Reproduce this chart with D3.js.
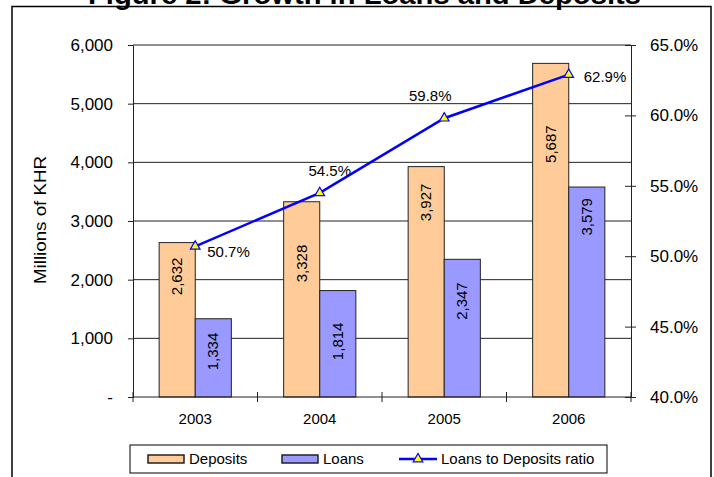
<!DOCTYPE html>
<html>
<head>
<meta charset="utf-8">
<script src="https://cdn.jsdelivr.net/npm/d3@7"></script>
<style>
  body { margin: 0; background: #fff; }
  svg { font-family: "Liberation Sans", Arial, sans-serif; }
</style>
</head>
<body>
<svg width="714" height="477"></svg>
<script>
var years = ["2003", "2004", "2005", "2006"];
var deposits = [2632, 3328, 3927, 5687];
var loans = [1334, 1814, 2347, 3579];
var ratio = [50.7, 54.5, 59.8, 62.9];
var leftTicks = [0, 1000, 2000, 3000, 4000, 5000, 6000];
var rightTicks = [40, 45, 50, 55, 60, 65];

// where each ratio label sits relative to its marker
var ratioLabelPos = [
  {dx: 12, dy: 11, anchor: "start"},
  {dx: 10, dy: -17, anchor: "middle"},
  {dx: -14, dy: -17, anchor: "middle"},
  {dx: 15, dy: 7, anchor: "start"}
];
// gap (px) between bar top and the start of its rotated value label
var depLabelGap = [15, 43, 17, 62];
var loanLabelGap = [14, 32, 23, 11];

var svg = d3.select("svg"),
    margin = {top: 45, left: 133, right: 83, bottom: 80},
    width = 714 - margin.left - margin.right,
    height = 477 - margin.top - margin.bottom;

// outer frame
svg.append("rect")
    .attr("x", 12).attr("y", 6.5)
    .attr("width", 699).attr("height", 490)
    .attr("fill", "none").attr("stroke", "#000").attr("stroke-width", 1.5);

svg.append("text")
    .attr("x", 364.5).attr("y", 4)
    .attr("text-anchor", "middle")
    .attr("textLength", 553).attr("lengthAdjust", "spacingAndGlyphs")
    .style("font-size", "27px").style("font-weight", "bold")
    .text("Figure 2: Growth in Loans and Deposits");

var g = svg.append("g").attr("transform", "translate(" + margin.left + "," + margin.top + ")");

var x = d3.scaleBand().domain(years).range([0, width]);
var y = d3.scaleLinear().domain([0, 6000]).range([height, 0]);
var y2 = d3.scaleLinear().domain([40, 65]).range([height, 0]);

// gridlines
g.append("g")
  .selectAll("line")
  .data(leftTicks.slice(1))
  .enter().append("line")
    .attr("x1", 0).attr("x2", width)
    .attr("y1", function(d) { return y(d); })
    .attr("y2", function(d) { return y(d); })
    .attr("stroke", "#222").attr("stroke-width", 1);

var barW = x.bandwidth() * 0.29;

var groups = g.selectAll(".grp")
  .data(years)
  .enter().append("g")
    .attr("transform", function(d) { return "translate(" + (x(d) + x.bandwidth() / 2) + ",0)"; });

groups.append("rect")
    .attr("x", -barW)
    .attr("y", function(d, i) { return y(deposits[i]); })
    .attr("width", barW)
    .attr("height", function(d, i) { return height - y(deposits[i]); })
    .attr("fill", "#FFCC99").attr("stroke", "#222").attr("stroke-width", 1);

groups.append("rect")
    .attr("x", 0)
    .attr("y", function(d, i) { return y(loans[i]); })
    .attr("width", barW)
    .attr("height", function(d, i) { return height - y(loans[i]); })
    .attr("fill", "#9999FF").attr("stroke", "#222").attr("stroke-width", 1);

var fmt = d3.format(",");

groups.append("text")
    .attr("transform", function(d, i) { return "translate(" + (-barW / 2 + 5) + "," + (y(deposits[i]) + depLabelGap[i]) + ") rotate(-90)"; })
    .attr("text-anchor", "end")
    .style("font-size", "15px")
    .text(function(d, i) { return fmt(deposits[i]); });

groups.append("text")
    .attr("transform", function(d, i) { return "translate(" + (barW / 2 + 5) + "," + (y(loans[i]) + loanLabelGap[i]) + ") rotate(-90)"; })
    .attr("text-anchor", "end")
    .style("font-size", "15px")
    .text(function(d, i) { return fmt(loans[i]); });

// axes
var yAxis = d3.axisLeft(y).tickValues(leftTicks).tickSize(5).tickPadding(15)
    .tickFormat(function(d) { return d === 0 ? "-" : fmt(d); });
var yAxis2 = d3.axisRight(y2).tickValues(rightTicks).tickSize(5).tickPadding(14)
    .tickFormat(function(d) { return d.toFixed(1) + "%"; });

var ga = g.append("g").call(yAxis);
var gb = g.append("g").attr("transform", "translate(" + width + ",0)").call(yAxis2);
[ga, gb].forEach(function(a) {
  a.select(".domain").attr("stroke", "#222");
  a.selectAll(".tick line").attr("stroke", "#222");
  a.selectAll("text").style("font-size", "17px").attr("fill", "#000")
      .style("font-family", "Liberation Sans, Arial, sans-serif");
});
// right ticks cross the axis
gb.selectAll(".tick line").attr("x1", -6);

// x axis with ticks at category boundaries
g.append("line")
    .attr("x1", 0).attr("x2", width)
    .attr("y1", height).attr("y2", height)
    .attr("stroke", "#222");
g.append("g")
  .selectAll("line")
  .data(years.concat(["end"]))
  .enter().append("line")
    .attr("x1", function(d, i) { return i * x.step(); })
    .attr("x2", function(d, i) { return i * x.step(); })
    .attr("y1", height - 5).attr("y2", height + 5)
    .attr("stroke", "#222");
g.append("g")
  .selectAll("text")
  .data(years)
  .enter().append("text")
    .attr("x", function(d) { return x(d) + x.bandwidth() / 2; })
    .attr("y", height + 27)
    .attr("text-anchor", "middle")
    .style("font-size", "15px")
    .text(function(d) { return d; });

// ratio line
var line = d3.line()
    .x(function(d, i) { return x(years[i]) + x.bandwidth() / 2; })
    .y(function(d) { return y2(d); });

g.append("path")
    .datum(ratio)
    .attr("d", line)
    .attr("fill", "none").attr("stroke", "#0000FF").attr("stroke-width", 2.5);

var tri = d3.symbol().type(d3.symbolTriangle).size(40);
g.selectAll(".mk")
  .data(ratio)
  .enter().append("path")
    .attr("d", tri)
    .attr("transform", function(d, i) { return "translate(" + (x(years[i]) + x.bandwidth() / 2) + "," + y2(d) + ")"; })
    .attr("fill", "#FFFF00").attr("stroke", "#0000FF").attr("stroke-width", 1.2);

g.selectAll(".rl")
  .data(ratio)
  .enter().append("text")
    .attr("x", function(d, i) { return x(years[i]) + x.bandwidth() / 2 + ratioLabelPos[i].dx; })
    .attr("y", function(d, i) { return y2(d) + ratioLabelPos[i].dy; })
    .attr("text-anchor", function(d, i) { return ratioLabelPos[i].anchor; })
    .style("font-size", "15px")
    .text(function(d) { return d.toFixed(1) + "%"; });

// y axis title
svg.append("text")
    .attr("transform", "translate(46,220) rotate(-90)")
    .attr("text-anchor", "middle")
    .attr("textLength", 128).attr("lengthAdjust", "spacingAndGlyphs")
    .style("font-size", "16px")
    .text("Millions of KHR");

// legend
var leg = svg.append("g");
leg.append("rect")
    .attr("x", 130).attr("y", 445).attr("width", 477).attr("height", 28)
    .attr("fill", "#fff").attr("stroke", "#000").attr("stroke-width", 1);

var legItems = [
  {label: "Deposits", color: "#FFCC99", sx: 148},
  {label: "Loans", color: "#9999FF", sx: 282}
];
legItems.forEach(function(it) {
  leg.append("rect")
      .attr("x", it.sx).attr("y", 455).attr("width", 36).attr("height", 8)
      .attr("fill", it.color).attr("stroke", "#222").attr("stroke-width", 1.5);
  leg.append("text")
      .attr("x", it.sx + 41).attr("y", 464)
      .style("font-size", "15px")
      .text(it.label);
});
leg.append("line")
    .attr("x1", 399).attr("x2", 437).attr("y1", 459).attr("y2", 459)
    .attr("stroke", "#0000FF").attr("stroke-width", 2.5);
leg.append("path")
    .attr("d", tri)
    .attr("transform", "translate(418,459)")
    .attr("fill", "#FFFF00").attr("stroke", "#0000FF").attr("stroke-width", 1.2);
leg.append("text")
    .attr("x", 441).attr("y", 464)
    .style("font-size", "15px")
    .text("Loans to Deposits ratio");
</script>
</body>
</html>
